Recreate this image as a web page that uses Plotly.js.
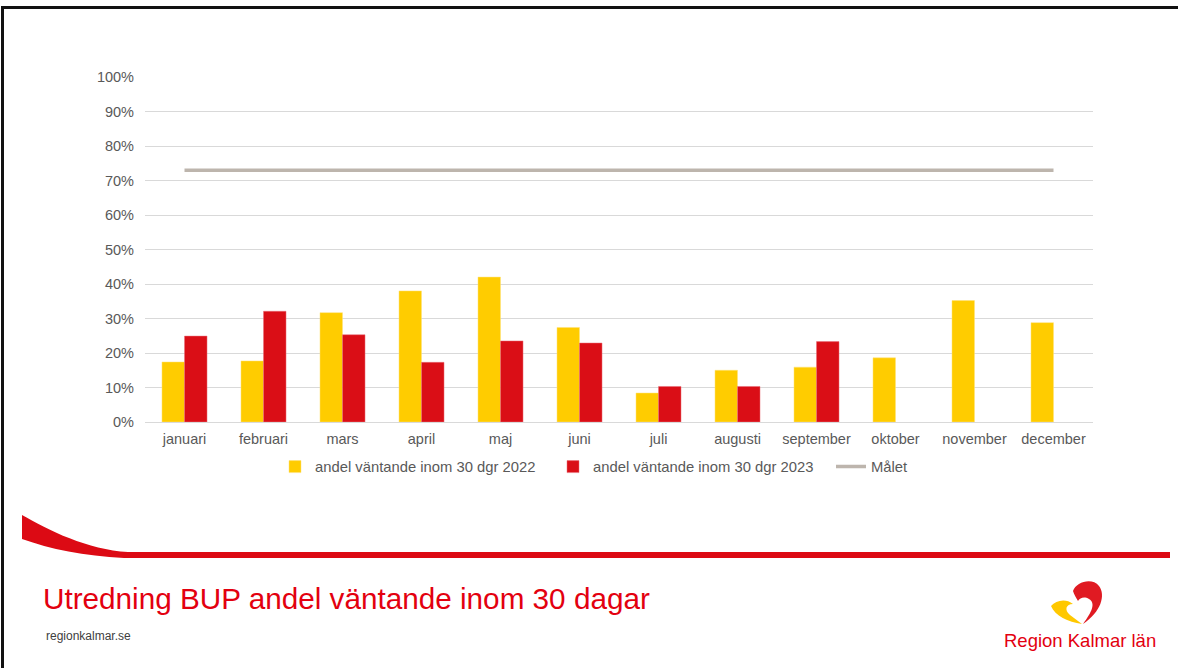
<!DOCTYPE html>
<html>
<head>
<meta charset="utf-8">
<script src="https://cdn.plot.ly/plotly-3.0.1.min.js"></script>
<style>
  html, body { margin: 0; padding: 0; background: #ffffff; }
  #chart { width: 1178px; height: 668px; }
</style>
</head>
<body>
<div id="chart"></div>
<script>
const months = ['januari', 'februari', 'mars', 'april', 'maj', 'juni', 'juli', 'augusti', 'september', 'oktober', 'november', 'december'];
const andel2022 = [0.174, 0.177, 0.317, 0.380, 0.420, 0.274, 0.084, 0.150, 0.159, 0.186, 0.352, 0.288];
const andel2023 = [0.249, 0.321, 0.253, 0.173, 0.235, 0.229, 0.103, 0.103, 0.233, null, null, null];
const malet = [0.73, 0.73, 0.73, 0.73, 0.73, 0.73, 0.73, 0.73, 0.73, 0.73, 0.73, 0.73];
const seriesNames = ['andel väntande inom 30 dgr 2022', 'andel väntande inom 30 dgr 2023', 'Målet'];
const slideTitle = 'Utredning BUP andel väntande inom 30 dagar';
const footerText = 'regionkalmar.se';
const logoText = 'Region Kalmar län';

// pixel -> paper helpers (plot area: x 145..1093, y 77..422)
const L = 145, R = 1093, T = 77, B = 422;
const W = 1178, H = 668;
function px(x) { return (x - L) / (R - L); }
function py(y) { return (B - y) / (B - T); }
function toPaper(path) {
  return path.replace(/(-?[\d.]+),(-?[\d.]+)/g, function (m, a, b) {
    return px(parseFloat(a)).toFixed(5) + ',' + py(parseFloat(b)).toFixed(5);
  });
}

const FONT = 'Liberation Sans, Arial, sans-serif';

const traces = [
  { type: 'bar', name: seriesNames[0], x: months, y: andel2022,
    marker: { color: '#ffcc00', line: { color: '#ffe27a', width: 0.5 } } },
  { type: 'bar', name: seriesNames[1], x: months, y: andel2023,
    marker: { color: '#da0e16', line: { color: '#e8707a', width: 0.5 } } },
  { type: 'scatter', mode: 'lines', name: seriesNames[2], x: months, y: malet,
    line: { color: '#bdb5ad', width: 3.5 } }
];

const shapes = [
  // slide frame
  { type: 'line', xref: 'paper', yref: 'paper', x0: px(1), x1: px(W), y0: py(7.5), y1: py(7.5),
    line: { color: '#111111', width: 3 } },
  { type: 'line', xref: 'paper', yref: 'paper', x0: px(2.5), x1: px(2.5), y0: py(6), y1: py(H),
    line: { color: '#111111', width: 3 } },
  // red swoosh
  { type: 'path', xref: 'paper', yref: 'paper', line: { width: 0 }, fillcolor: '#dc0a14',
    path: toPaper('M 22,515 C 48,530 88,550 128,552 L 1170,552 L 1170,558 L 124,558 C 84,556 50,549 22,539 Z') },
  // logo heart - red
  { type: 'path', xref: 'paper', yref: 'paper', line: { width: 0 }, fillcolor: '#e01a22',
    path: toPaper('M 1073,591 C 1076,582 1092,577 1099,586 C 1106,595 1101,612 1083,624 C 1092,612 1096,603 1089,599 C 1084,596 1080,598 1078,601 C 1076,598 1074,594 1073,591 Z') },
  // logo heart - yellow
  { type: 'path', xref: 'paper', yref: 'paper', line: { width: 0 }, fillcolor: '#ffc800',
    path: toPaper('M 1051,606 C 1056,600 1066,598 1073,604 C 1066,604 1064,610 1070,615 C 1074,618 1078,621 1082,624 C 1068,622 1055,616 1051,606 Z') }
];

const annotations = [
  { xref: 'paper', yref: 'paper', x: px(41), y: py(598), xanchor: 'left', yanchor: 'middle',
    text: slideTitle, showarrow: false, font: { family: FONT, size: 29.7, color: '#e3000f' } },
  { xref: 'paper', yref: 'paper', x: px(44), y: py(636), xanchor: 'left', yanchor: 'middle',
    text: footerText, showarrow: false, font: { family: FONT, size: 12, color: '#404040' } },
  { xref: 'paper', yref: 'paper', x: px(1080), y: py(640), xanchor: 'center', yanchor: 'middle',
    text: logoText, showarrow: false, font: { family: FONT, size: 18.5, color: '#e3000f' } }
];

const layout = {
  width: W, height: H,
  margin: { l: L, r: W - R, t: T, b: H - B, pad: 0 },
  paper_bgcolor: '#ffffff', plot_bgcolor: '#ffffff',
  font: { family: FONT, size: 14, color: '#595959' },
  barmode: 'group', bargap: 0.43, bargroupgap: 0,
  showlegend: true,
  legend: { orientation: 'h', x: px(275), xanchor: 'left', y: py(467), yanchor: 'middle',
    entrywidth: 233, entrywidthmode: 'pixels',
    font: { family: FONT, size: 14.8, color: '#595959' }, bgcolor: 'rgba(0,0,0,0)', traceorder: 'normal' },
  xaxis: { type: 'category', automargin: false, showgrid: false, zeroline: false, showline: false,
    ticks: '', tickfont: { family: FONT, size: 14.5, color: '#595959' }, ticklabelstandoff: 6 },
  yaxis: { range: [0, 1], dtick: 0.1, tickformat: '.0%', automargin: false, showgrid: true,
    gridcolor: '#d9d9d9', gridwidth: 1, zeroline: true, zerolinecolor: '#d9d9d9', zerolinewidth: 1,
    showline: false, ticks: '', ticklabelstandoff: 10,
    tickfont: { family: FONT, size: 14.5, color: '#595959' } },
  shapes: shapes,
  annotations: annotations
};

Plotly.newPlot('chart', traces, layout, { displayModeBar: false, staticPlot: true });
</script>
</body>
</html>
